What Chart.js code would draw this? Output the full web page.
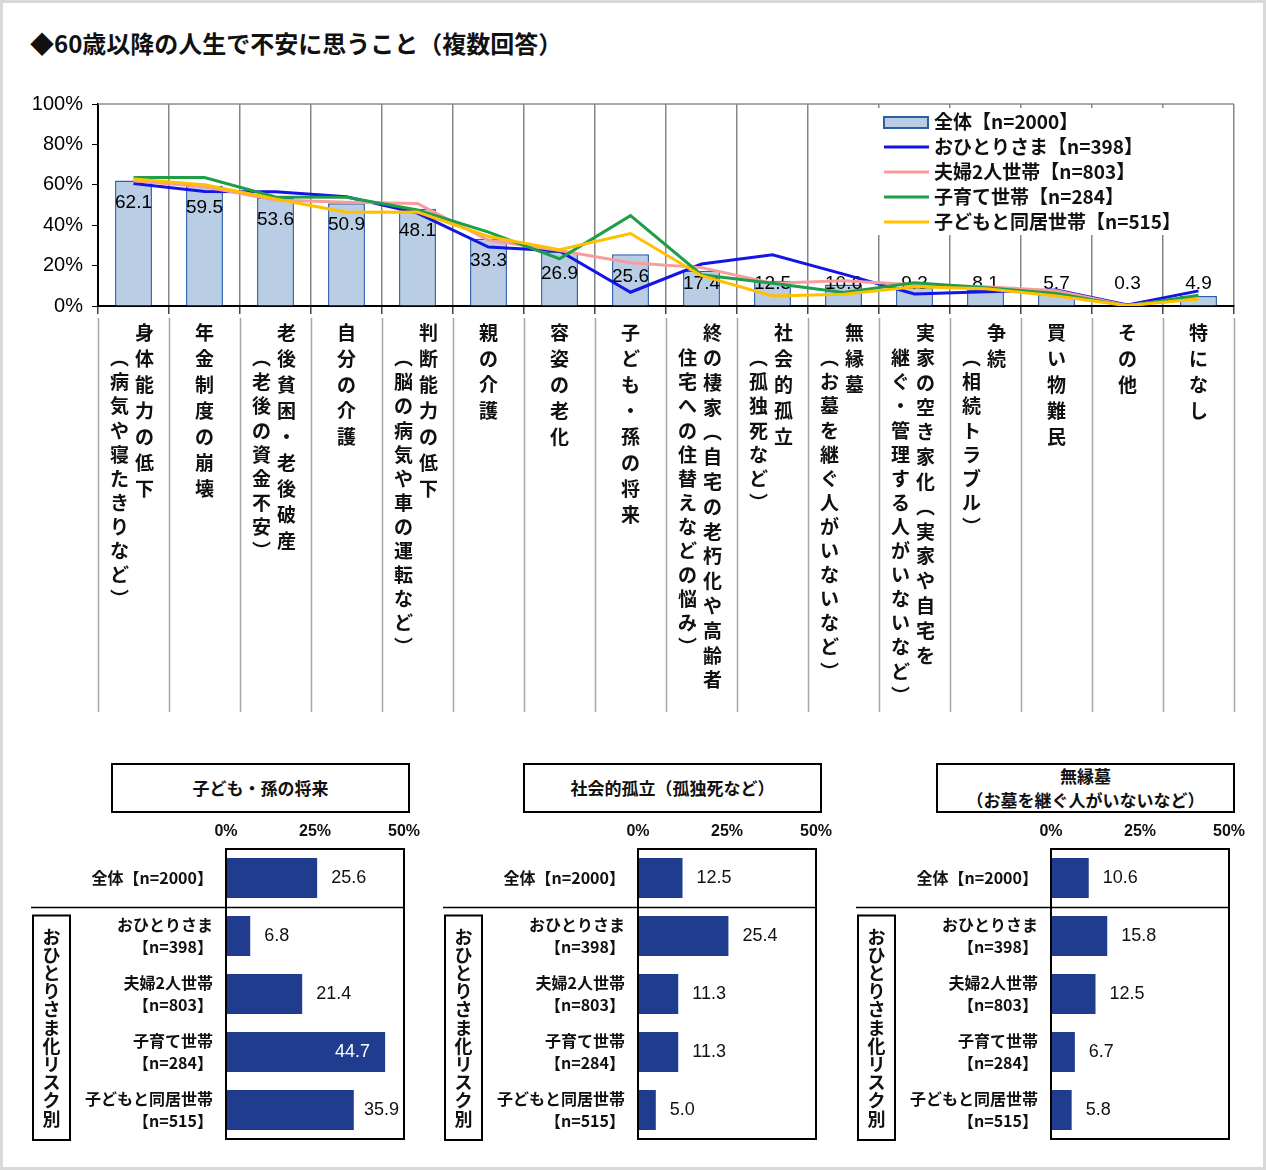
<!DOCTYPE html>
<html lang="ja">
<head>
<meta charset="utf-8">
<script src="https://cdn.jsdelivr.net/npm/chart.js@4.4.1/dist/chart.umd.min.js"></script>
<style>
  html, body { margin: 0; padding: 0; background: #fff; }
  #page { position: relative; width: 1266px; height: 1170px; background: #fff; overflow: hidden; }
  #border { position: absolute; left: 0; top: 0; width: 1266px; height: 1170px; box-sizing: border-box; border: 3px solid #d9d9d9; pointer-events: none; }
  #title { position: absolute; left: 30px; top: 27px; font: bold 24px "Noto Sans CJK JP", sans-serif; line-height: 32px; color: #111; white-space: nowrap; }
  canvas { position: absolute; }
  .ptitle { position: absolute; top: 763px; width: 299px; height: 50px; box-sizing: border-box; border: 2px solid #000;
            display: flex; flex-direction: column; align-items: center; justify-content: center;
            font: bold 17px "Noto Sans CJK JP", sans-serif; line-height: 24px; color: #111; }
</style>
</head>
<body>
<div id="page">
  <div id="title">◆60歳以降の人生で不安に思うこと（複数回答）</div>
  <canvas id="mainChart" width="1266" height="720" style="left:0;top:0"></canvas>

  <div class="ptitle" style="left:111px">子ども・孫の将来</div>
  <div class="ptitle" style="left:523px">社会的孤立（孤独死など）</div>
  <div class="ptitle" style="left:936px"><span>無縁墓</span><span>（お墓を継ぐ人がいないなど）</span></div>

  <canvas id="panel1" width="432" height="335" style="left:0;top:815px"></canvas>
  <canvas id="panel2" width="432" height="335" style="left:412px;top:815px"></canvas>
  <canvas id="panel3" width="432" height="335" style="left:825px;top:815px"></canvas>
  <div id="border"></div>
</div>
<script>
// categories: [main line, second line]
const categories = [
  ['身体能力の低下', '（病気や寝たきりなど）'],
  ['年金制度の崩壊'],
  ['老後貧困・老後破産', '（老後の資金不安）'],
  ['自分の介護'],
  ['判断能力の低下', '（脳の病気や車の運転など）'],
  ['親の介護'],
  ['容姿の老化'],
  ['子ども・孫の将来'],
  ['終の棲家（自宅の老朽化や高齢者', '住宅への住替えなどの悩み）'],
  ['社会的孤立', '（孤独死など）'],
  ['無縁墓', '（お墓を継ぐ人がいないなど）'],
  ['実家の空き家化（実家や自宅を', '継ぐ・管理する人がいないなど）'],
  ['争続', '（相続トラブル）'],
  ['買い物難民'],
  ['その他'],
  ['特になし']
];

const seriesNames = ['全体【n=2000】', 'おひとりさま【n=398】', '夫婦2人世帯【n=803】', '子育て世帯【n=284】', '子どもと同居世帯【n=515】'];

const overall      = [62.1, 59.5, 53.6, 50.9, 48.1, 33.3, 26.9, 25.6, 17.4, 12.5, 10.6, 9.3, 8.1, 5.7, 0.3, 4.9];
const single       = [60.6, 56.7, 56.5, 54.1, 46.0, 29.2, 27.2, 6.8, 20.8, 25.4, 15.8, 6.0, 7.0, 7.9, 0.5, 7.5];
const couple       = [62.0, 59.0, 52.5, 51.3, 50.8, 32.5, 27.5, 21.4, 19.0, 11.3, 12.5, 10.5, 9.5, 7.5, 0.2, 4.5];
const childRearing = [63.6, 63.6, 54.0, 53.8, 47.5, 36.6, 23.4, 44.7, 15.5, 11.3, 6.7, 11.5, 9.0, 6.2, 0.0, 5.3];
const withChild    = [62.9, 60.0, 53.0, 46.4, 46.5, 34.4, 27.9, 35.9, 15.0, 5.0, 5.8, 9.5, 8.5, 4.9, 0.2, 3.5];

const yTickLabels = ['0%', '20%', '40%', '60%', '80%', '100%'];

// bottom panels
const panelLabels = ['全体【n=2000】', ['おひとりさま', '【n=398】'], ['夫婦2人世帯', '【n=803】'], ['子育て世帯', '【n=284】'], ['子どもと同居世帯', '【n=515】']];
const childFuture = [25.6, 6.8, 21.4, 44.7, 35.9];
const isolation   = [12.5, 25.4, 11.3, 11.3, 5.0];
const grave       = [10.6, 15.8, 12.5, 6.7, 5.8];
const panelTicks  = ['0%', '25%', '50%'];
const sideLabel   = 'おひとりさま化リスク別';

const CJK = '"Noto Sans CJK JP", sans-serif';
const NUM = '"Liberation Sans", Arial, sans-serif';
const barFill = '#b9cde5', barLine = '#2a5fa8';
const lineColors = ['#1414e6', '#f99c9c', '#1e9e48', '#ffc000'];

// vertical forms for brackets
const vert = s => s.replace(/（/g, '︵').replace(/）/g, '︶');

const mainDecor = {
  id: 'mainDecor',
  afterDatasetDraw(chart, args) {
    if (args.index !== 0) return;
    // value labels on the bars, under the lines
    const { ctx, scales: { y } } = chart;
    const zero = y.getPixelForValue(0);
    ctx.save();
    ctx.font = '19px ' + NUM;
    ctx.fillStyle = '#000';
    ctx.textAlign = 'center';
    ctx.textBaseline = 'middle';
    args.meta.data.forEach((bar, i) => {
      const ty = Math.min(bar.y + 22, zero - 22);
      ctx.fillText(overall[i].toFixed(1), bar.x, ty);
    });
    ctx.restore();
  },
  afterDatasetsDraw(chart) {
    const { ctx, chartArea: a } = chart;
    ctx.save();
    // top border
    ctx.strokeStyle = '#8c8c8c';
    ctx.lineWidth = 1.5;
    ctx.beginPath(); ctx.moveTo(a.left, a.top); ctx.lineTo(a.right, a.top); ctx.stroke();

    // legend
    ctx.fillStyle = '#fff';
    ctx.fillRect(876, 108, 312, 127);
    ctx.font = 'bold 19px ' + CJK;
    ctx.textAlign = 'left';
    ctx.textBaseline = 'middle';
    seriesNames.forEach((name, i) => {
      const ly = 122 + i * 25;
      if (i === 0) {
        ctx.fillStyle = barFill;
        ctx.fillRect(884, ly - 5, 44, 11);
        ctx.strokeStyle = barLine;
        ctx.lineWidth = 2;
        ctx.strokeRect(884, ly - 5, 44, 11);
      } else {
        ctx.strokeStyle = lineColors[i - 1];
        ctx.lineWidth = 3;
        ctx.beginPath(); ctx.moveTo(884, ly); ctx.lineTo(929, ly); ctx.stroke();
      }
      ctx.fillStyle = '#111';
      ctx.fillText(name, 934, ly);
    });
    ctx.restore();
  },
  afterDraw(chart) {
    const { ctx, chartArea: a, scales: { x } } = chart;
    const n = categories.length;
    const step = (a.right - a.left) / n;
    ctx.save();
    // separators under the axis
    ctx.strokeStyle = '#a6a6a6';
    ctx.lineWidth = 1.5;
    for (let i = 0; i <= n; i++) {
      const lx = Math.round(a.left + i * step) + 0.5;
      ctx.beginPath(); ctx.moveTo(lx, 318); ctx.lineTo(lx, 712); ctx.stroke();
    }
    // vertical category labels
    ctx.fillStyle = '#111';
    ctx.font = 'bold 19px ' + CJK;
    ctx.textAlign = 'center';
    ctx.textBaseline = 'middle';
    categories.forEach((lines, i) => {
      const cx = x.getPixelForValue(i);
      const two = lines.length > 1;
      const main = [...vert(lines[0])];
      const p1 = main.length > 10 ? 24.8 : 26;
      main.forEach((ch, k) => ctx.fillText(ch, two ? cx + 11 : cx, 333 + k * p1));
      if (two) {
        [...vert(lines[1])].forEach((ch, k) => ctx.fillText(ch, cx - 14, 358 + k * 24.1));
      }
    });
    ctx.restore();
  }
};

new Chart(document.getElementById('mainChart').getContext('2d'), {
  type: 'bar',
  data: {
    labels: categories.map(c => c.join('')),
    datasets: [
      { type: 'bar', label: seriesNames[0], data: overall, backgroundColor: barFill, borderColor: barLine, borderWidth: 1.5,
        barPercentage: 0.52, categoryPercentage: 1, order: 10 },
      { type: 'line', label: seriesNames[1], data: single, borderColor: lineColors[0], borderWidth: 3, pointRadius: 0, tension: 0, order: 4 },
      { type: 'line', label: seriesNames[2], data: couple, borderColor: lineColors[1], borderWidth: 3, pointRadius: 0, tension: 0, order: 3 },
      { type: 'line', label: seriesNames[3], data: childRearing, borderColor: lineColors[2], borderWidth: 3, pointRadius: 0, tension: 0, order: 2 },
      { type: 'line', label: seriesNames[4], data: withChild, borderColor: lineColors[3], borderWidth: 3, pointRadius: 0, tension: 0, order: 1 }
    ]
  },
  options: {
    responsive: false,
    devicePixelRatio: 1,
    animation: false,
    layout: { padding: { left: 0, right: 32, top: 104, bottom: 406 } },
    plugins: { legend: { display: false }, tooltip: { enabled: false } },
    scales: {
      x: {
        offset: true,
        grid: { offset: true, color: '#858585', lineWidth: 1.5, drawTicks: true, tickLength: 8, tickColor: '#444' },
        border: { color: '#000', width: 2 },
        ticks: { display: false },
        afterFit: s => { s.height = 8; s.paddingLeft = 0; s.paddingRight = 0; }
      },
      y: {
        min: 0, max: 100,
        ticks: { stepSize: 20, callback: (v, i) => yTickLabels[i], color: '#000', font: { family: NUM, size: 20 }, padding: 9 },
        grid: { drawOnChartArea: false, drawTicks: true, tickLength: 6, tickColor: '#000' },
        border: { color: '#000', width: 2 },
        afterFit: s => { s.width = 98; s.paddingTop = 0; s.paddingBottom = 0; }
      }
    }
  },
  plugins: [mainDecor]
});

// bottom panels
function panelDecor(values) {
  return {
    id: 'panelDecor',
    afterDatasetsDraw(chart) {
      const { ctx, chartArea: a } = chart;
      const band = (a.bottom - a.top) / values.length;
      ctx.save();
      // frame
      ctx.strokeStyle = '#000';
      ctx.lineWidth = 2;
      ctx.strokeRect(a.left, a.top, a.right - a.left, a.bottom - a.top);
      // separator between total and groups
      const sy = Math.round(a.top + band) + 0.5;
      ctx.lineWidth = 1.5;
      ctx.beginPath(); ctx.moveTo(31, sy); ctx.lineTo(a.right, sy); ctx.stroke();
      // side box
      ctx.lineWidth = 2;
      const top = sy + 8, bottom = a.bottom + 1;
      ctx.strokeRect(33, top, 37, bottom - top);
      ctx.fillStyle = '#111';
      ctx.font = 'bold 18px ' + CJK;
      ctx.textAlign = 'center';
      ctx.textBaseline = 'middle';
      const chars = [...sideLabel];
      const pitch = 18.2;
      const y0 = (top + bottom) / 2 - (chars.length - 1) * pitch / 2;
      chars.forEach((ch, k) => ctx.fillText(ch, 51.5, y0 + k * pitch));
      // values: outside the bar end, pulled back inside the plot if needed
      ctx.font = '18px ' + NUM;
      ctx.textAlign = 'left';
      chart.getDatasetMeta(0).data.forEach((bar, i) => {
        const t = values[i].toFixed(1);
        const w = ctx.measureText(t).width;
        let tx = bar.x + 14;
        if (tx + w > a.right - 5) tx = a.right - 5 - w;
        if (tx < bar.x) {
          ctx.fillStyle = '#fff';
          ctx.textAlign = 'right';
          ctx.fillText(t, bar.x - 15, bar.y);
          ctx.textAlign = 'left';
        } else {
          ctx.fillStyle = '#111';
          ctx.fillText(t, tx, bar.y);
        }
      });
      ctx.restore();
    }
  };
}

function makePanel(id, values) {
  new Chart(document.getElementById(id).getContext('2d'), {
    type: 'bar',
    data: {
      labels: panelLabels,
      datasets: [{ data: values, backgroundColor: '#1f3c8e', barPercentage: 0.69, categoryPercentage: 1 }]
    },
    options: {
      indexAxis: 'y',
      responsive: false,
      devicePixelRatio: 1,
      animation: false,
      layout: { padding: { left: 0, right: 28, top: 0, bottom: 11 } },
      plugins: { legend: { display: false }, tooltip: { enabled: false } },
      scales: {
        x: {
          position: 'top',
          min: 0, max: 50,
          ticks: { stepSize: 25, callback: (v, i) => panelTicks[i], color: '#111', font: { family: NUM, size: 16, weight: 'bold' }, padding: 8 },
          grid: { drawOnChartArea: false, drawTicks: false },
          border: { display: false },
          afterFit: s => { s.height = 34; s.paddingLeft = 0; s.paddingRight = 0; }
        },
        y: {
          ticks: { color: '#111', font: { family: CJK, size: 16, weight: 'bold', lineHeight: 1.4 }, padding: 13 },
          grid: { drawOnChartArea: false, drawTicks: false },
          border: { display: false },
          afterFit: s => { s.width = 226; s.paddingTop = 0; s.paddingBottom = 0; }
        }
      }
    },
    plugins: [panelDecor(values)]
  });
}

makePanel('panel1', childFuture);
makePanel('panel2', isolation);
makePanel('panel3', grave);
</script>
</body>
</html>
